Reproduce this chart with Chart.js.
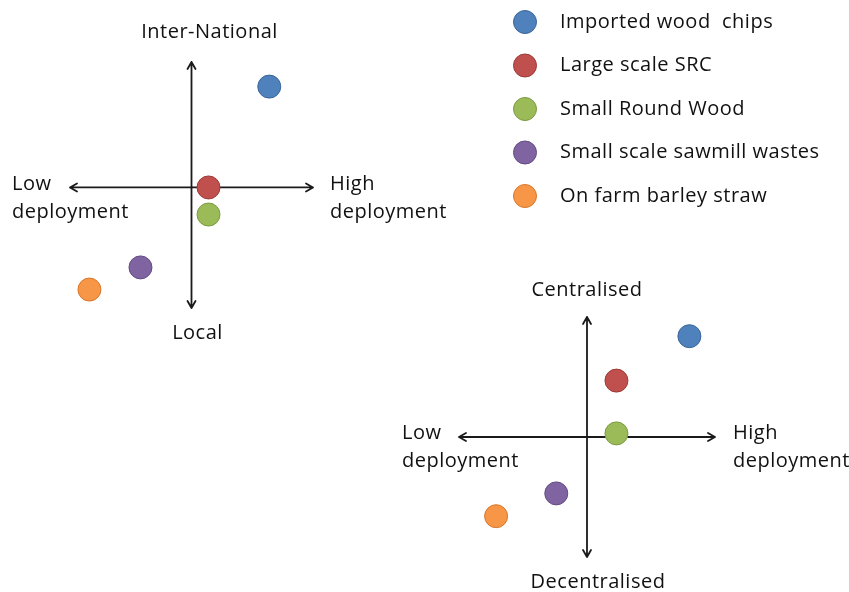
<!DOCTYPE html>
<html><head><meta charset="utf-8">
<script src="https://cdn.jsdelivr.net/npm/chart.js@4/dist/chart.umd.min.js"></script>
<style>
html,body{margin:0;padding:0;background:#fff;}
#wrap{position:relative;width:849px;height:592px;overflow:hidden;background:#fff;}
#wrap canvas{position:absolute;left:0;top:0;}
</style></head><body>
<div id="wrap">
<canvas id="c1" width="849" height="592"></canvas>
<canvas id="c2" width="849" height="592"></canvas>
</div>
<script>
// ---- data ----
const seriesNames = ['Imported wood  chips','Large scale SRC','Small Round Wood','Small scale sawmill wastes','On farm barley straw'];
const seriesColors = ['#4F81BD','#C0504D','#9BBB59','#8064A2','#F79646'];
const seriesBorders = ['#3A6597','#9C3A37','#7B9A40','#634B83','#D9762A'];
// chart 1: x = deployment (low .. high), y = Local .. Inter-National
const deployment1 = [6.4, 1.4, 1.4, -4.2, -8.4];
const scale1 = [8.2, 0.0, -2.2, -6.5, -8.3];
// chart 2: x = deployment (low .. high), y = Decentralised .. Centralised
const deployment2 = [8.0, 2.3, 2.3, -2.4, -7.1];
const centralisation2 = [8.4, 4.7, 0.3, -4.7, -6.6];
const axisLabels1 = {top:['Inter-National'], bottom:['Local'], left:['Low','deployment'], right:['High','deployment']};
const axisLabels2 = {top:['Centralised'], bottom:['Decentralised'], left:['Low','deployment'], right:['High','deployment']};

const FONT = '20px "Open Sans"';
const SPACING = '0.5px';
const TXT = '#111';

function makeDatasets(xs, ys){
  return seriesNames.map((n,i)=>({
    label:n,
    data:[{x:xs[i], y:ys[i]}],
    backgroundColor:seriesColors[i],
    borderColor:seriesBorders[i],
    borderWidth:1,
    pointRadius:11.5,
    pointHoverRadius:11.5,
    clip:false
  }));
}

function arrowPlugin(labels, off){
  return {
    id:'quadArrows',
    beforeDatasetsDraw(chart){
      const {ctx, chartArea:a, scales} = chart;
      const x0 = scales.x.getPixelForValue(0);
      const y0 = scales.y.getPixelForValue(0);
      ctx.save();
      ctx.strokeStyle = '#1a1a1a';
      ctx.lineWidth = 1.8;
      ctx.lineCap = 'round';
      ctx.lineJoin = 'round';
      ctx.beginPath();
      ctx.moveTo(a.left, y0); ctx.lineTo(a.right, y0);
      ctx.moveTo(x0, a.top); ctx.lineTo(x0, a.bottom);
      const h = 7, w = 4;
      ctx.moveTo(a.left+h, y0-w); ctx.lineTo(a.left, y0); ctx.lineTo(a.left+h, y0+w);
      ctx.moveTo(a.right-h, y0-w); ctx.lineTo(a.right, y0); ctx.lineTo(a.right-h, y0+w);
      ctx.moveTo(x0-w, a.top+h); ctx.lineTo(x0, a.top); ctx.lineTo(x0+w, a.top+h);
      ctx.moveTo(x0-w, a.bottom-h); ctx.lineTo(x0, a.bottom); ctx.lineTo(x0+w, a.bottom-h);
      ctx.stroke();
      // labels
      ctx.fillStyle = TXT;
      ctx.font = FONT;
      if ('letterSpacing' in ctx) ctx.letterSpacing = SPACING;
      ctx.textBaseline = 'alphabetic';
      ctx.textAlign = 'center';
      ctx.fillText(labels.top[0], x0 + off.topDx, a.top - off.topDy);
      ctx.fillText(labels.bottom[0], x0 + off.botDx, a.bottom + off.botDy);
      ctx.textAlign = 'left';
      labels.left.forEach((t,i)=> ctx.fillText(t, a.left - off.leftDx, y0 + off.sideDy + i*28));
      labels.right.forEach((t,i)=> ctx.fillText(t, a.right + off.rightDx, y0 + off.sideDy + i*28));
      ctx.restore();
    }
  };
}

const legendPlugin = {
  id:'sideLegend',
  afterDraw(chart){
    const ctx = chart.ctx;
    ctx.save();
    ctx.font = FONT;
    if ('letterSpacing' in ctx) ctx.letterSpacing = SPACING;
    ctx.textBaseline = 'middle';
    ctx.textAlign = 'left';
    chart.data.datasets.forEach((ds,i)=>{
      const y = 22 + i*43.5;
      ctx.beginPath();
      ctx.arc(525, y, 11.5, 0, Math.PI*2);
      ctx.fillStyle = ds.backgroundColor;
      ctx.fill();
      ctx.lineWidth = 1;
      ctx.strokeStyle = ds.borderColor;
      ctx.stroke();
      ctx.fillStyle = TXT;
      ctx.fillText(ds.label, 560, y);
    });
    ctx.restore();
  }
};

function baseOptions(padding, yMin, yMax){
  return {
    responsive:false,
    animation:false,
    events:[],
    layout:{padding},
    plugins:{legend:{display:false}, tooltip:{enabled:false}},
    scales:{
      x:{type:'linear', min:-10, max:10, display:false},
      y:{type:'linear', min:yMin, max:yMax, display:false}
    }
  };
}

new Chart(document.getElementById('c1'), {
  type:'scatter',
  data:{datasets:makeDatasets(deployment1, scale1)},
  options:baseOptions({left:70, right:849-313, top:62, bottom:592-308}, -9.8, 10.2),
  plugins:[arrowPlugin(axisLabels1, {topDx:18, topDy:24, botDx:6, botDy:31, leftDx:58, rightDx:17, sideDy:3}), legendPlugin]
});

new Chart(document.getElementById('c2'), {
  type:'scatter',
  data:{datasets:makeDatasets(deployment2, centralisation2)},
  options:baseOptions({left:459, right:849-715, top:317, bottom:592-557}, -10, 10),
  plugins:[arrowPlugin(axisLabels2, {topDx:0, topDy:21, botDx:11, botDy:31, leftDx:57, rightDx:18, sideDy:2})]
});
</script>
</body></html>
